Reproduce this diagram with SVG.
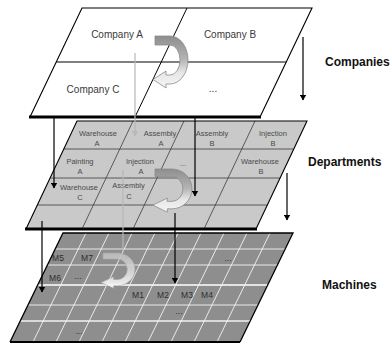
<svg xmlns="http://www.w3.org/2000/svg" width="390" height="343" viewBox="0 0 390 343">
  <style>
    .t1 { font-family: "Liberation Sans", Arial, sans-serif; font-size: 10px; fill: #3a3a3a; text-anchor: middle; }
    .t2 { font-family: "Liberation Sans", Arial, sans-serif; font-size: 7.5px; fill: #4a4a4a; text-anchor: middle; }
    .t3 { font-family: "Liberation Sans", Arial, sans-serif; font-size: 8.5px; fill: #2e2e2e; text-anchor: middle; }
    .lbl { font-family: "Liberation Sans", Arial, sans-serif; font-size: 12px; font-weight: bold; fill: #111; }
    .edge { stroke: #000; stroke-width: 1.1; fill: none; }
    .base { stroke: #000; stroke-width: 3; }
    .g2 { stroke: #3c3c3c; stroke-width: 0.8; fill: none; }
    .g3 { stroke: #f4f4f4; stroke-width: 0.9; fill: none; }
    .arr { stroke: #000; stroke-width: 1.2; fill: none; marker-end: url(#head); }
    .ghost { stroke: #b8b8b8; stroke-width: 1.2; fill: none; }
  </style>
  <defs>
    <marker id="head" markerWidth="6" markerHeight="7" refX="5.5" refY="3.5" orient="auto" markerUnits="userSpaceOnUse">
      <path d="M0,0 L6,3.5 L0,7 Z" fill="#000"/>
    </marker>
    <marker id="ghead" markerWidth="6" markerHeight="7" refX="5.5" refY="3.5" orient="auto" markerUnits="userSpaceOnUse">
      <path d="M0,0 L6,3.5 L0,7 Z" fill="#b8b8b8"/>
    </marker>
    <linearGradient id="turnFill" x1="0" y1="0" x2="0" y2="1">
      <stop offset="0" stop-color="#8e8e8e"/>
      <stop offset="0.45" stop-color="#b4b4b4"/>
      <stop offset="0.7" stop-color="#e6e6e6"/>
      <stop offset="1" stop-color="#f6f6f6"/>
    </linearGradient>
    <linearGradient id="turnFillLight" x1="0" y1="0" x2="0" y2="1">
      <stop offset="0" stop-color="#bdbdbd"/>
      <stop offset="0.5" stop-color="#d8d8d8"/>
      <stop offset="1" stop-color="#ffffff"/>
    </linearGradient>
    <!-- U-turn arrow, tail at the origin -->
    <path id="turn" d="M0,0 L15,0 A18,24 0 0 1 15,48 L11,48 L11,52 L-2,43.5 L11,35 L11,39 L15,39 A10,15 0 0 0 15,9 L0,9 Z"/>
  </defs>

  <!-- Machines layer -->
  <g id="machines">
    <path d="M63,233 L293,233 L240,342 L10,342 Z" fill="#8e8e8e"/>
    <g class="g3">
      <line x1="55.2" y1="249" x2="285.2" y2="249"/>
      <line x1="47.4" y1="265" x2="277.4" y2="265"/>
      <line x1="37.7" y1="285" x2="267.7" y2="285" stroke="#ffffff" stroke-width="1.6"/>
      <line x1="28" y1="305" x2="258" y2="305"/>
      <line x1="20.2" y1="321" x2="250.2" y2="321" stroke="#d8d8d8" stroke-width="1.8"/>
      <line x1="86" y1="233" x2="33" y2="342"/>
      <line x1="109" y1="233" x2="56" y2="342"/>
      <line x1="132" y1="233" x2="79" y2="342"/>
      <line x1="155" y1="233" x2="102" y2="342"/>
      <line x1="178" y1="233" x2="125" y2="342"/>
      <line x1="201" y1="233" x2="148" y2="342"/>
      <line x1="224" y1="233" x2="171" y2="342"/>
      <line x1="247" y1="233" x2="194" y2="342"/>
      <line x1="270" y1="233" x2="217" y2="342"/>
    </g>
    <path d="M10,342 L63,233 L293,233 L240,342" fill="none" stroke="#000" stroke-width="1.3"/>
    <line x1="10" y1="342" x2="240" y2="342" stroke="#000" stroke-width="2"/>
    <use href="#turn" transform="translate(103,253) scale(0.97,0.68)" fill="url(#turnFillLight)" stroke="#a8a8a8" stroke-width="0.8" opacity="0.9"/>
    <text class="t3" x="58" y="261">M5</text>
    <text class="t3" x="87" y="261">M7</text>
    <text class="t3" x="55" y="281">M6</text>
    <text class="t3" x="78" y="279">...</text>
    <text class="t3" x="138" y="297.5">M1</text>
    <text class="t3" x="163" y="297.5">M2</text>
    <text class="t3" x="187" y="297.5">M3</text>
    <text class="t3" x="207" y="297.5">M4</text>
    <text class="t3" x="228" y="261">...</text>
    <text class="t3" x="179" y="314">...</text>
    <text class="t3" x="79" y="334">...</text>
  </g>

  <!-- Departments layer -->
  <g id="departments">
    <path d="M77,121 L307,121 L256,229 L26,229 Z" fill="#c9c9c9"/>
    <g class="g2">
      <line x1="63.8" y1="149" x2="293.8" y2="149"/>
      <line x1="50.1" y1="178" x2="280.1" y2="178"/>
      <line x1="37.3" y1="205" x2="267.3" y2="205"/>
      <line x1="133" y1="121" x2="82" y2="229"/>
      <line x1="184" y1="121" x2="133" y2="229"/>
      <line x1="255" y1="121" x2="204" y2="229"/>
    </g>
    <path d="M26,229 L77,121 L307,121 L256,229" class="edge"/>
    <line x1="25" y1="229" x2="257" y2="229" class="base"/>
    <use href="#turn" transform="translate(155,169) scale(1.12,0.83)" fill="url(#turnFill)" stroke="#8a8a8a" stroke-width="0.8"/>
    <text class="t2" x="98" y="135.5">Warehouse</text>
    <text class="t2" x="97" y="145.5">A</text>
    <text class="t2" x="160" y="135.5">Assembly</text>
    <text class="t2" x="161" y="145.5">A</text>
    <text class="t2" x="212" y="135.5">Assembly</text>
    <text class="t2" x="212" y="145.5">B</text>
    <text class="t2" x="273" y="135.5">Injection</text>
    <text class="t2" x="273" y="145.5">B</text>
    <text class="t2" x="80" y="163.5">Painting</text>
    <text class="t2" x="80" y="173.5">A</text>
    <text class="t2" x="140" y="163.5">Injection</text>
    <text class="t2" x="141" y="173.5">A</text>
    <text class="t2" x="183" y="166">...</text>
    <text class="t2" x="260" y="163.5">Warehouse</text>
    <text class="t2" x="261" y="173.5">B</text>
    <text class="t2" x="79" y="189.5">Warehouse</text>
    <text class="t2" x="80" y="200">C</text>
    <text class="t2" x="128.5" y="187.5">Assembly</text>
    <text class="t2" x="129" y="198.5">C</text>
  </g>

  <!-- Companies layer -->
  <g id="companies">
    <path d="M82,8 L312,8 L260,117 L30,117 Z" fill="#ffffff"/>
    <line x1="56.2" y1="62" x2="286.2" y2="62" stroke="#000" stroke-width="1"/>
    <line x1="187" y1="8" x2="135" y2="117" stroke="#000" stroke-width="1"/>
    <path d="M30,117 L82,8 L312,8 L260,117" class="edge"/>
    <line x1="29" y1="117" x2="261" y2="117" class="base"/>
    <use href="#turn" transform="translate(155,36)" fill="url(#turnFill)" stroke="#8a8a8a" stroke-width="0.8"/>
    <text class="t1" x="117" y="37.5">Company A</text>
    <text class="t1" x="230" y="37.5">Company B</text>
    <text class="t1" x="93" y="92.5">Company C</text>
    <text class="t1" x="213" y="92">...</text>
  </g>

  <!-- Level labels -->
  <g id="level-labels">
    <text class="lbl" x="325" y="66">Companies</text>
    <text class="lbl" x="308" y="166">Departments</text>
    <text class="lbl" x="322" y="289">Machines</text>
  </g>

  <!-- Connectors -->
  <g id="connectors">
    <line x1="135" y1="53" x2="135" y2="136" class="ghost" marker-end="url(#ghead)"/>
    <line x1="123" y1="170" x2="123" y2="252" class="ghost"/>
    <line x1="54" y1="118" x2="54" y2="188" class="arr"/>
    <line x1="195" y1="118" x2="195" y2="196" class="arr"/>
    <line x1="42" y1="221" x2="42" y2="292" class="arr" stroke="#2a2a2a"/>
    <line x1="175" y1="213" x2="175" y2="283" class="arr"/>
    <line x1="303" y1="37" x2="303" y2="100" class="arr"/>
    <line x1="287" y1="173" x2="287" y2="220" class="arr"/>
  </g>
</svg>
